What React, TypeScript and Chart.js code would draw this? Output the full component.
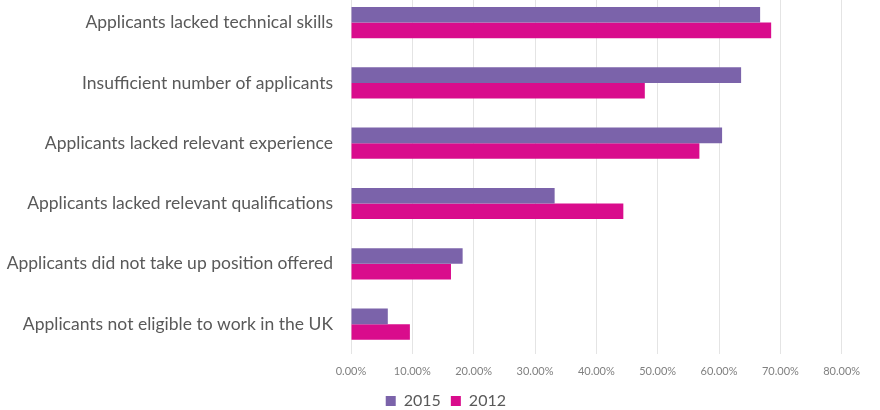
import React, { useEffect, useRef } from "react";
import { Chart, registerables } from "chart.js";

Chart.register(...registerables);

const categories = [
  "Applicants lacked technical skills",
  "Insufficient number of applicants",
  "Applicants lacked relevant experience",
  "Applicants lacked relevant qualifications",
  "Applicants did not take up position offered",
  "Applicants not eligible to work in the UK",
];
const values2015 = [66.7, 63.6, 60.5, 33.2, 18.2, 6.0];
const values2012 = [68.5, 47.9, 56.8, 44.4, 16.3, 9.6];
const xTicks = [0, 10, 20, 30, 40, 50, 60, 70, 80];

const FONT = "Lato, 'Open Sans', sans-serif";

const legendShift = {
  id: "legendShift",
  afterLayout(chart: any) {
    const lg = chart.legend;
    if (lg) {
      lg.left += 25;
      lg.right += 25;
    }
  },
};

export default function App() {
  const ref = useRef<HTMLCanvasElement | null>(null);
  useEffect(() => {
    if (!ref.current) return;
    const chart = new Chart(ref.current, {
      type: "bar",
      data: {
        labels: categories,
        datasets: [
          {
            label: "2015",
            data: values2015,
            backgroundColor: "#7B63AA",
            borderWidth: 0,
            categoryPercentage: 0.517,
            barPercentage: 1,
          },
          {
            label: "2012",
            data: values2012,
            backgroundColor: "#D90C8C",
            borderWidth: 0,
            categoryPercentage: 0.517,
            barPercentage: 1,
          },
        ],
      },
      plugins: [legendShift],
      options: {
        indexAxis: "y",
        responsive: false,
        animation: false,
        layout: { padding: { top: 12.4, right: 38.3, left: 0, bottom: 0 } },
        scales: {
          x: {
            min: 0,
            max: 80,
            afterBuildTicks: (s: any) => {
              s.ticks = xTicks.map((v) => ({ value: v }));
            },
            afterFit: (s: any) => {
              s.height = 28.7;
              s.paddingLeft = 0;
              s.paddingRight = 0;
            },
            ticks: {
              callback: (v: any) => Number(v).toFixed(2) + "%",
              color: "#808080",
              font: { family: FONT, size: 11 },
              padding: 11,
              maxRotation: 0,
            },
            grid: { color: "#E4E4E4", drawTicks: false, lineWidth: 1 },
            border: { display: false },
          },
          y: {
            afterFit: (s: any) => {
              s.width = 351;
              s.paddingTop = 0;
              s.paddingBottom = 0;
            },
            ticks: {
              color: "#595959",
              font: { family: FONT, size: 17.5 },
              padding: 18,
            },
            grid: { display: false, drawTicks: false },
            border: { display: false },
          },
        },
        plugins: {
          legend: {
            position: "bottom",
            labels: {
              boxWidth: 10,
              boxHeight: 10,
              padding: 10,
              color: "#595959",
              font: { family: FONT, size: 16 },
            },
          },
          tooltip: { enabled: false },
        },
      },
    });
    return () => chart.destroy();
  }, []);
  return (
    <canvas
      ref={ref}
      width={880}
      height={439}
      style={{ position: "absolute", top: -20, left: 0, width: 880, height: 439 }}
    />
  );
}
